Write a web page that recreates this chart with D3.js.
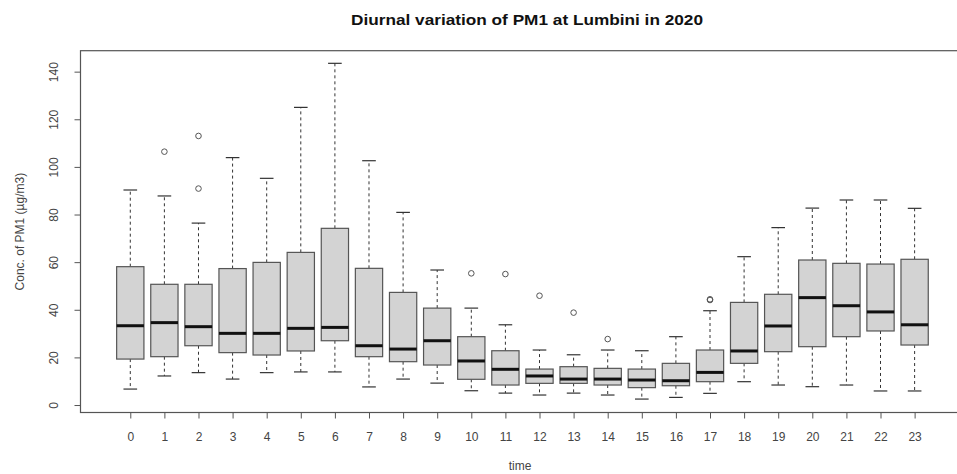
<!DOCTYPE html>
<html>
<head>
<meta charset="utf-8">
<script src="https://cdn.jsdelivr.net/npm/d3@7"></script>
<style>
  body { margin: 0; background: #fff; }
  svg { display: block; font-family: "Liberation Sans", Arial, sans-serif; }
</style>
</head>
<body>
<svg id="chart" width="957" height="474"></svg>
<script>
const hours        = [0,1,2,3,4,5,6,7,8,9,10,11,12,13,14,15,16,17,18,19,20,21,22,23];
const lowerWhisker = [6.7,12.2,13.6,10.9,13.6,13.9,13.9,7.6,10.9,9.2,6.0,5.0,4.2,5.0,4.2,2.5,3.2,4.9,9.8,8.4,7.7,8.4,5.9,5.9];
const q1           = [19.3,20.3,24.9,22.0,21.0,22.7,27.0,20.3,18.2,16.8,10.8,8.4,9.1,9.1,8.4,7.3,8.1,9.8,17.5,22.4,24.5,28.7,31.1,25.2];
const medians      = [33.3,34.6,32.9,30.1,30.1,32.2,32.6,24.9,23.5,27.0,18.5,15.0,12.2,10.9,10.9,10.5,10.2,13.7,22.7,33.2,45.1,41.7,39.1,33.7];
const q3           = [58.1,50.7,50.7,57.3,59.9,64.1,74.2,57.4,47.3,40.7,28.7,22.8,15.1,16.1,15.4,15.1,17.5,23.1,43.1,46.5,60.9,59.5,59.2,61.2];
const upperWhisker = [90.3,87.8,76.4,103.9,95.2,125.0,143.5,102.6,80.9,56.7,40.7,33.7,23.1,21.1,23.1,22.8,28.7,39.6,62.3,74.5,82.7,86.1,86.1,82.6];
const outlierHours  = [1,2,2,10,11,12,13,14,17,17];
const outlierValues = [106.4,113.0,90.9,55.3,55.0,45.9,38.8,27.7,44.1,44.4];
const yTicks = [0,20,40,60,80,100,120,140];

const titleText = "Diurnal variation of PM1 at Lumbini in 2020";
const xTitle = "time";
const yTitle = "Conc. of PM1 (\u00b5g/m3)";

(function () {
const svg = d3.select("#chart");
const pL = 80.5, pR = 964.4, pT = 50.7, pB = 412.5;

const x = d3.scaleLinear().domain([-1.46, 24.46]).range([pL, pR]);
const y = d3.scaleLinear().domain([-3.14, 148.8]).range([pB, pT]);
const unit = x(1) - x(0);
const boxW = unit * 0.8;
const capW = boxW * 0.5;

const boxes = hours.map((h, i) => ({
  h, lo: lowerWhisker[i], q1: q1[i], med: medians[i], q3: q3[i], hi: upperWhisker[i]
}));

const g = svg.append("g");

g.selectAll("line.wlo").data(boxes).join("line")
  .attr("x1", d => x(d.h)).attr("x2", d => x(d.h))
  .attr("y1", d => y(d.q1)).attr("y2", d => y(d.lo))
  .attr("stroke", "#333").attr("stroke-width", 1).attr("stroke-dasharray", "3,3");
g.selectAll("line.whi").data(boxes).join("line")
  .attr("x1", d => x(d.h)).attr("x2", d => x(d.h))
  .attr("y1", d => y(d.q3)).attr("y2", d => y(d.hi))
  .attr("stroke", "#333").attr("stroke-width", 1).attr("stroke-dasharray", "3,3");
g.selectAll("line.clo").data(boxes).join("line")
  .attr("x1", d => x(d.h) - capW/2).attr("x2", d => x(d.h) + capW/2)
  .attr("y1", d => y(d.lo)).attr("y2", d => y(d.lo))
  .attr("stroke", "#333").attr("stroke-width", 1.2);
g.selectAll("line.chi").data(boxes).join("line")
  .attr("x1", d => x(d.h) - capW/2).attr("x2", d => x(d.h) + capW/2)
  .attr("y1", d => y(d.hi)).attr("y2", d => y(d.hi))
  .attr("stroke", "#333").attr("stroke-width", 1.2);
g.selectAll("rect.box").data(boxes).join("rect")
  .attr("x", d => x(d.h) - boxW/2).attr("width", boxW)
  .attr("y", d => y(d.q3)).attr("height", d => y(d.q1) - y(d.q3))
  .attr("fill", "#d3d3d3").attr("stroke", "#555").attr("stroke-width", 1.2);
g.selectAll("line.med").data(boxes).join("line")
  .attr("x1", d => x(d.h) - boxW/2).attr("x2", d => x(d.h) + boxW/2)
  .attr("y1", d => y(d.med)).attr("y2", d => y(d.med))
  .attr("stroke", "#111").attr("stroke-width", 3);
g.selectAll("circle.out").data(outlierHours.map((h, i) => ({h, v: outlierValues[i]}))).join("circle")
  .attr("cx", d => x(d.h)).attr("cy", d => y(d.v)).attr("r", 2.8)
  .attr("fill", "none").attr("stroke", "#555").attr("stroke-width", 1);

svg.append("rect").attr("x", pL).attr("y", pT)
  .attr("width", pR - pL).attr("height", pB - pT)
  .attr("fill", "none").attr("stroke", "#555").attr("stroke-width", 1.2);

const xAxis = svg.append("g").attr("transform", `translate(0,${pB})`)
  .call(d3.axisBottom(x).tickValues(hours).tickSize(6).tickPadding(14).tickFormat(d3.format("d")));
xAxis.select(".domain").remove();
xAxis.selectAll("line").attr("stroke", "#555");
xAxis.selectAll("text").attr("font-size", 12).attr("fill", "#444");

const yAxis = svg.append("g").attr("transform", `translate(${pL},0)`)
  .call(d3.axisLeft(y).tickValues(yTicks).tickSize(6).tickFormat(d3.format("d")));
yAxis.select(".domain").remove();
yAxis.selectAll("line").attr("stroke", "#555");
yAxis.selectAll("text")
  .attr("x", 0).attr("dy", null)
  .attr("text-anchor", "middle")
  .attr("dominant-baseline", "central")
  .attr("transform", "translate(-27,0) rotate(-90)")
  .attr("font-size", 12).attr("fill", "#444");

svg.append("text").attr("x", 527).attr("y", 25)
  .attr("text-anchor", "middle").attr("font-size", 15).attr("font-weight", "bold")
  .attr("textLength", 352).attr("lengthAdjust", "spacingAndGlyphs")
  .attr("fill", "#111").text(titleText);
svg.append("text").attr("x", 520).attr("y", 470)
  .attr("text-anchor", "middle").attr("font-size", 12).attr("fill", "#444").text(xTitle);
svg.append("text").attr("transform", `translate(20,${(pT+pB)/2}) rotate(-90)`)
  .attr("text-anchor", "middle").attr("dominant-baseline", "central")
  .attr("font-size", 12).attr("fill", "#444").text(yTitle);
})();
</script>
</body>
</html>
